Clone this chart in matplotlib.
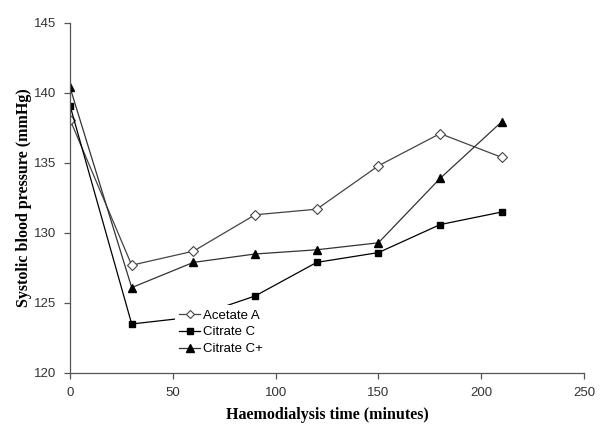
import matplotlib
matplotlib.use('Agg')
import matplotlib.pyplot as plt

time_min = [0, 30, 60, 90, 120, 150, 180, 210]
acetate_a = [138.1, 127.7, 128.7, 131.3, 131.7, 134.8, 137.1, 135.4]
citrate_c = [139.1, 123.5, 124.0, 125.5, 127.9, 128.6, 130.6, 131.5]
citrate_cplus = [140.4, 126.1, 127.9, 128.5, 128.8, 129.3, 133.9, 137.95]

fig = plt.figure(figsize=(6, 4.36), dpi=100)
ax = fig.add_axes([0.1167, 0.1445, 0.8567, 0.8028])

ax.plot(time_min, acetate_a, color='#444444', lw=0.9, marker='D', ms=5,
        mfc='white', mec='#444444', mew=0.8, label='Acetate A')
ax.plot(time_min, citrate_c, color='black', lw=0.9, marker='s', ms=5,
        mfc='black', mec='black', label='Citrate C')
ax.plot(time_min, citrate_cplus, color='#333333', lw=0.9, marker='^', ms=6,
        mfc='black', mec='black', label='Citrate C+')

ax.set_xlim(0, 250)
ax.set_ylim(120, 145)
ax.set_xticks([0, 50, 100, 150, 200, 250])
ax.set_yticks([120, 125, 130, 135, 140, 145])

for s in ['top', 'right']:
    ax.spines[s].set_visible(False)
for s in ['left', 'bottom']:
    ax.spines[s].set_color('#555555')
    ax.spines[s].set_linewidth(0.9)
ax.tick_params(direction='out', length=4, width=0.9, color='#555555',
               labelsize=9.5, labelcolor='#333333', pad=6)
for lab in ax.get_xticklabels() + ax.get_yticklabels():
    lab.set_family('Liberation Sans')

ax.set_xlabel('Haemodialysis time (minutes)', family='Liberation Serif',
              fontweight='bold', fontsize=11.5, labelpad=6)
ax.set_ylabel('Systolic blood pressure (mmHg)', family='Liberation Serif',
              fontweight='bold', fontsize=11.5, labelpad=1)

# legend box is opaque and hides part of the Citrate C line, as in the original
leg = ax.legend(loc='upper left', bbox_to_anchor=(0.192, 0.212), frameon=True,
                framealpha=1, edgecolor='none', fancybox=False,
                prop={'family': 'Liberation Sans', 'size': 9.5},
                handlelength=1.6, handletextpad=0.2, labelspacing=0.35,
                borderpad=0.3, markerscale=0.85)
leg.set_zorder(10)

fig.savefig('out.png', dpi=100)
